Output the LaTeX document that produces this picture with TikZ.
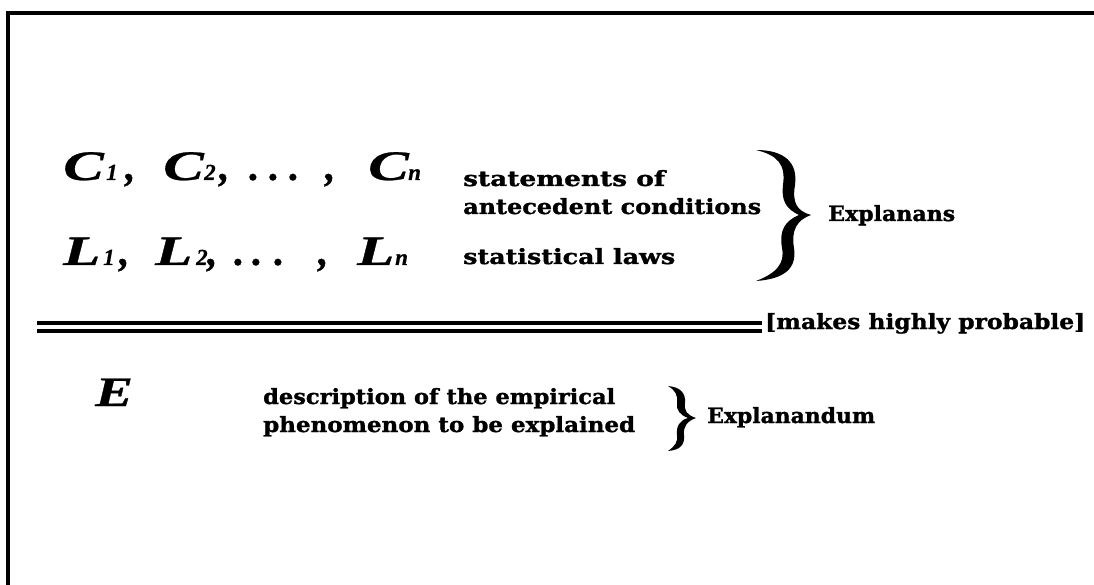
\documentclass[tikz,border=0pt]{standalone}
\usepackage{fontspec}
\usepackage{graphicx}
\setmainfont{Liberation Serif}
\newfontfamily\labfont{DejaVu Serif Bold}[FakeBold=1.2]
\newfontfamily\mathfam{Liberation Serif Bold Italic}[FakeBold=0.6]
\newcommand\mathfnt{\fontsize{42}{42}\selectfont\mathfam}
\newcommand\subfnt{\fontsize{23}{23}\selectfont\mathfam}
\newcommand\subx[1]{{\subfnt #1}}
\newcommand\wideL[1]{\scalebox{1.45}[1]{#1}}
\newcommand\fitw[2]{\resizebox{#1}{\height}{#2}}
\newcommand\bx[2]{\makebox[#1pt][l]{#2}}
\tikzset{
  lab/.style={font=\labfont\fontsize{21}{21}\selectfont, anchor=base west, inner sep=0pt},
  formula/.style={font=\mathfnt, anchor=base west, inner sep=0pt},
  framestyle/.style={line width=4pt},
  rulestyle/.style={line width=4.8pt},
  bracestyle/.style={fill=black}
}
\begin{document}
\begin{tikzpicture}[x=1pt,y=-1pt]
\useasboundingbox (0,0) rectangle (1094,585);
% frame
\coordinate (fbl) at (8,585);
\coordinate (ftl) at (8,13);
\coordinate (ftr) at (1094,13);
\draw[framestyle] (fbl) -- (ftl) -- (ftr);

% formulas
\node[formula] (crow) at (63,180) {\bx{43}{\wideL{C}}\bx{19}{\subx{1}}\bx{38}{,}\bx{41}{\wideL{C}}\bx{15}{\subx{2}}\bx{30}{,}\bx{20}{.}\bx{20}{.}\bx{36}{.}\bx{43}{,}\bx{40}{\wideL{C}}\subx{n}};
\node[formula] (lrow) at (63,265) {\bx{40}{\wideL{L}}\bx{16}{\subx{1}}\bx{36}{,}\bx{41}{\wideL{L}}\bx{11}{\subx{2}}\bx{27}{,}\bx{18}{.}\bx{22}{.}\bx{44}{.}\bx{39}{,}\bx{38}{\wideL{L}}\subx{n}};
\node[formula] (erow) at (95,406) {\scalebox{1.35}[1]{E}};

% labels
\node[lab] (stm) at (463,186) {\fitw{202pt}{statements of}};
\node[lab] (ant) at (463,214) {\fitw{298pt}{antecedent conditions}};
\node[lab] (sta) at (463,264) {\fitw{212pt}{statistical laws}};
\node[lab] (exs) at (828,221) {\fitw{127pt}{Explanans}};
\node[lab] (mhp) at (765,329) {\fitw{320pt}{[makes highly probable]}};
\node[lab] (des) at (263,404) {\fitw{352pt}{description of the empirical}};
\node[lab] (phe) at (263,432) {\fitw{372pt}{phenomenon to be explained}};
\node[lab] (exd) at (707,423) {\fitw{168pt}{Explanandum}};

% double rule
\coordinate (r1a) at (37,323); \coordinate (r1b) at (762,323);
\coordinate (r2a) at (37,331); \coordinate (r2b) at (762,331);
\draw[rulestyle] (r1a) -- (r1b);
\draw[rulestyle] (r2a) -- (r2b);

% big brace
\fill[bracestyle] (756,150) .. controls (785,150) and (798,163) .. (795,185)
 .. controls (792,203) and (797,211) .. (811,215)
 .. controls (797,220) and (791,230) .. (794,248)
 .. controls (797,268) and (785,279) .. (756,281)
 .. controls (777,273) and (785,263) .. (782,248)
 .. controls (779,230) and (785,221) .. (799,215)
 .. controls (786,209) and (781,200) .. (783,185)
 .. controls (786,164) and (777,155) .. (756,150) -- cycle;

% small brace
\fill[bracestyle] (668,386) .. controls (680,387) and (686,393) .. (685,403)
 .. controls (684,411) and (687,415) .. (696,418)
 .. controls (687,421) and (683,427) .. (684,435)
 .. controls (685,445) and (680,450) .. (668,451)
 .. controls (675,446) and (678,442) .. (677,435)
 .. controls (676,426) and (680,420) .. (688,418)
 .. controls (680,415) and (676,410) .. (677,403)
 .. controls (678,395) and (675,390) .. (668,386) -- cycle;
\end{tikzpicture}
\end{document}
